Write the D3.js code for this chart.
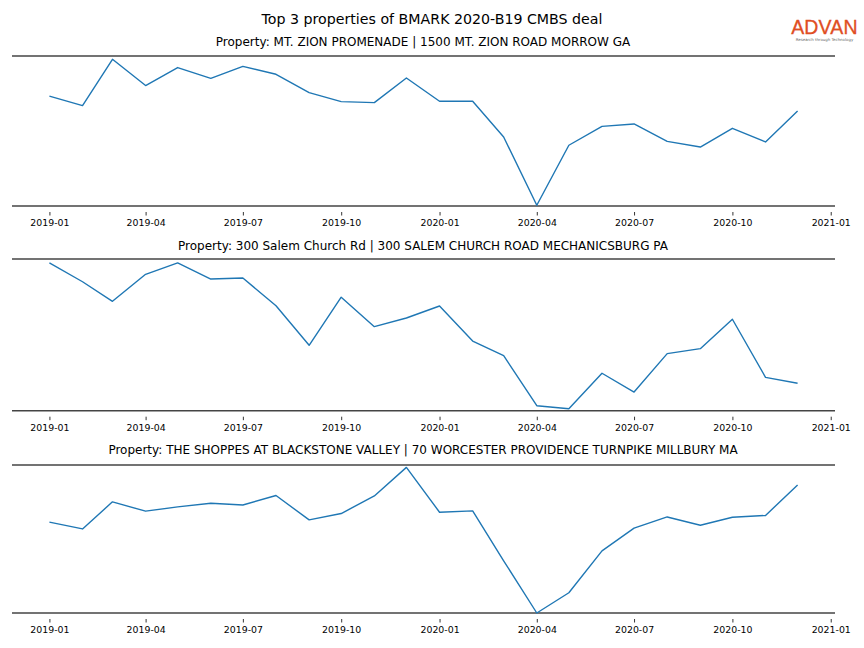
<!DOCTYPE html>
<html><head><meta charset="utf-8">
<script src="https://cdn.jsdelivr.net/npm/d3@7"></script>
<style>body{margin:0;background:#fff}svg{display:block;font-family:"DejaVu Sans",sans-serif}</style>
</head><body><svg id="chart" width="864" height="648"></svg>
<script>
const months = ["2019-01","2019-02","2019-03","2019-04","2019-05","2019-06","2019-07","2019-08","2019-09","2019-10","2019-11","2019-12",
"2020-01","2020-02","2020-03","2020-04","2020-05","2020-06","2020-07","2020-08","2020-09","2020-10","2020-11","2020-12"];
const mainTitle = "Top 3 properties of BMARK 2020-B19 CMBS deal";
const panelTitles = [
 "Property: MT. ZION PROMENADE | 1500 MT. ZION ROAD MORROW GA",
 "Property: 300 Salem Church Rd | 300 SALEM CHURCH ROAD MECHANICSBURG PA",
 "Property: THE SHOPPES AT BLACKSTONE VALLEY | 70 WORCESTER PROVIDENCE TURNPIKE MILLBURY MA"
];
const series1 = [73.3,66.9,97.8,80.3,92.3,85.1,93.1,87.8,75.6,69.6,68.9,85.3,69.8,69.8,46.0,0.5,40.5,53.1,54.7,43.1,39.3,51.8,42.7,63.3];
const series2 = [97.4,85.0,72.1,89.9,97.4,86.8,87.5,69.2,43.1,74.8,55.4,61.1,69.0,45.9,36.3,3.3,1.3,24.7,12.3,37.6,40.9,60.3,22.0,18.1];
const series3 = [61.4,56.8,75.1,68.8,71.7,74.2,73.0,79.4,62.9,67.2,79.1,98.4,68.1,69.0,35.3,0.0,13.7,42.0,57.3,64.9,59.3,64.7,65.9,86.5];
const tickLabels = ["2019-01","2019-04","2019-07","2019-10","2020-01","2020-04","2020-07","2020-10","2021-01"];
const allSeries = [series1, series2, series3];

const svg = d3.select("#chart");
const parse = d3.timeParse("%Y-%m");
const dates = months.map(parse);
const DAY = 864e5;
const x = d3.scaleTime()
  .domain([new Date(+dates[0] - 35*DAY), new Date(+dates[dates.length-1] + 35*DAY)])
  .range([12, 835]);

svg.append("text").attr("x", 432).attr("y", 24).attr("text-anchor","middle")
  .attr("font-size", 14.2).attr("fill","#000").text(mainTitle);

// logo
const logo = svg.append("g");
logo.append("text").attr("x", 824.5).attr("y", 34).attr("text-anchor","middle")
  .attr("font-family","Liberation Sans, Arial, sans-serif").attr("font-size", 19.5)
  .attr("fill","#e04e23").attr("letter-spacing", 0.2).attr("stroke","#e04e23").attr("stroke-width",0.3).text("ADVAN");
logo.append("text").attr("x", 824.5).attr("y", 40.5).attr("text-anchor","middle")
  .attr("font-size", 3.9).attr("fill","#666").text("Research through Technology");

const panels = [
  {top: 56, bottom: 206, titleY: 46},
  {top: 259, bottom: 410.7, titleY: 250},
  {top: 465, bottom: 613, titleY: 454}
];

panels.forEach((p, i) => {
  const y = d3.scaleLinear().domain([0, 100]).range([p.bottom, p.top]);
  const g = svg.append("g");
  g.append("text").attr("x", 423).attr("y", p.titleY).attr("text-anchor","middle")
    .attr("font-size", 12).attr("fill","#000").text(panelTitles[i]);
  // top spine
  g.append("line").attr("x1", 12).attr("x2", 835).attr("y1", p.top).attr("y2", p.top)
    .attr("stroke","#444").attr("stroke-width", 1.5);
  const ax = g.append("g").attr("transform", `translate(0,${p.bottom})`)
    .call(d3.axisBottom(x).tickValues(tickLabels.map(parse)).tickFormat(d3.timeFormat("%Y-%m"))
      .tickSize(3.5).tickPadding(10));
  ax.select(".domain").attr("stroke","#444").attr("stroke-width",1.5).attr("d", "M12,0H835");
  ax.selectAll(".tick line").attr("stroke","#000").attr("stroke-width",0.8).attr("y1", 6).attr("y2", 9.5);
  ax.selectAll(".tick text").attr("font-size", 9.4).attr("font-family","DejaVu Sans, sans-serif").attr("fill","#000");
  const line = d3.line().x((d, j) => x(dates[j])).y(d => y(d));
  g.append("path").datum(allSeries[i]).attr("d", line).attr("fill","none")
    .attr("stroke","#1f77b4").attr("stroke-width", 1.4).attr("stroke-linejoin","round");
});
</script></body></html>
